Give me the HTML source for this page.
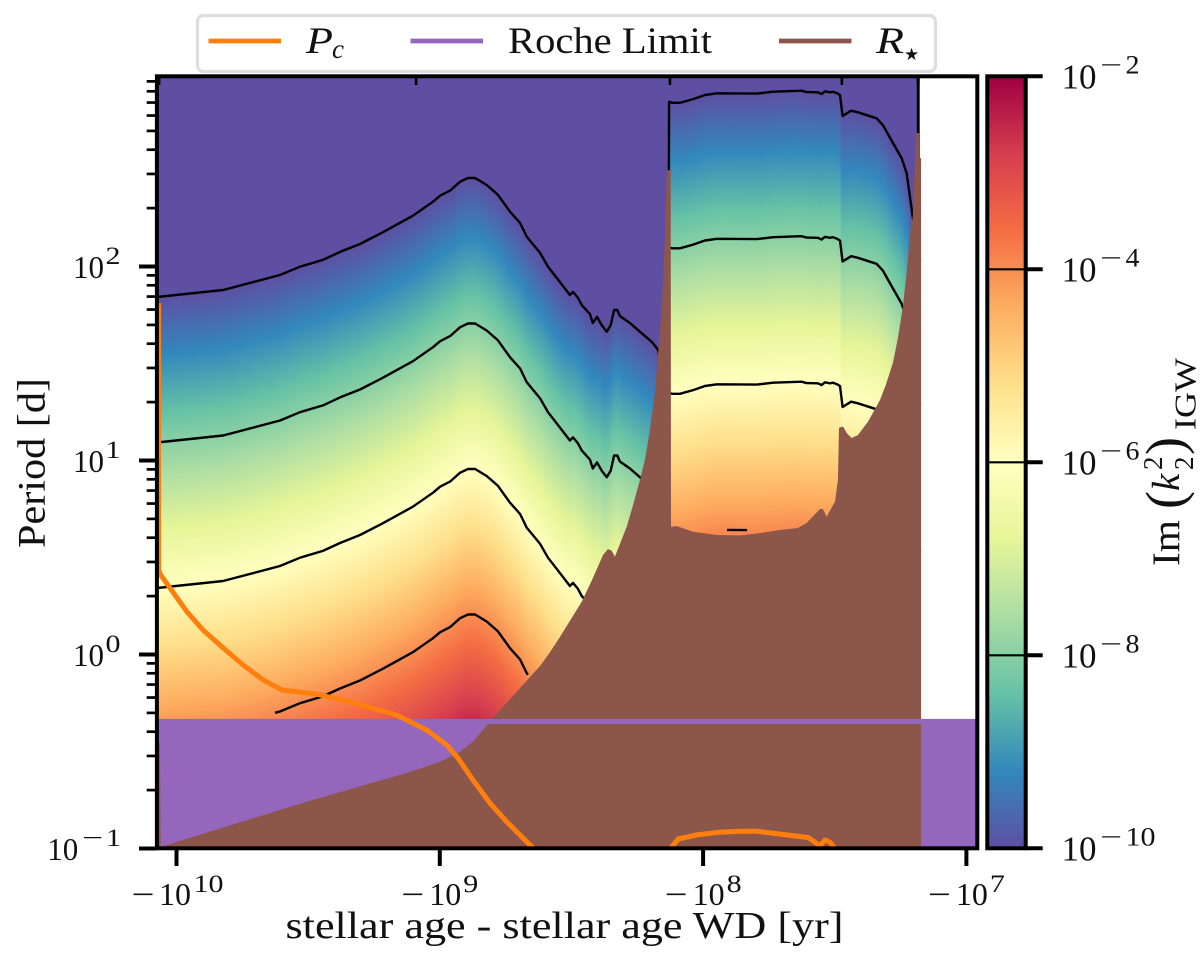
<!DOCTYPE html>
<html lang="en">
<head>
<meta charset="utf-8">
<title>Tidal dissipation chart</title>
<style>
html,body{margin:0;padding:0;background:#fff;}
body{width:1200px;height:954px;overflow:hidden;}
svg{display:block;}
text{font-family:"Liberation Serif","DejaVu Serif",serif;fill:#111;}
</style>
</head>
<body>
<svg id="chart" xmlns="http://www.w3.org/2000/svg" width="1200" height="954" viewBox="0 0 1200 954">
  <defs>
    <linearGradient id="spectral-down" x1="0" y1="0" x2="0" y2="1">
      <stop offset="0" stop-color="#5e4fa2"/><stop offset="0.1" stop-color="#3288bd"/>
      <stop offset="0.2" stop-color="#66c2a5"/><stop offset="0.3" stop-color="#abdda4"/>
      <stop offset="0.4" stop-color="#e6f598"/><stop offset="0.5" stop-color="#ffffbf"/>
      <stop offset="0.6" stop-color="#fee08b"/><stop offset="0.7" stop-color="#fdae61"/>
      <stop offset="0.8" stop-color="#f46d43"/><stop offset="0.9" stop-color="#d53e4f"/>
      <stop offset="1" stop-color="#9e0142"/>
    </linearGradient>
    <linearGradient id="spectral-up" x1="0" y1="1" x2="0" y2="0">
      <stop offset="0" stop-color="#5e4fa2"/><stop offset="0.1" stop-color="#3288bd"/>
      <stop offset="0.2" stop-color="#66c2a5"/><stop offset="0.3" stop-color="#abdda4"/>
      <stop offset="0.4" stop-color="#e6f598"/><stop offset="0.5" stop-color="#ffffbf"/>
      <stop offset="0.6" stop-color="#fee08b"/><stop offset="0.7" stop-color="#fdae61"/>
      <stop offset="0.8" stop-color="#f46d43"/><stop offset="0.9" stop-color="#d53e4f"/>
      <stop offset="1" stop-color="#9e0142"/>
    </linearGradient>
    <clipPath id="plot-clip"><rect x="157" y="76" width="820" height="772"/></clipPath>
    <clipPath id="heat-clip"><rect x="158" y="76" width="762" height="643"/></clipPath>
  </defs>

  <rect x="0" y="0" width="1200" height="954" fill="#fff"/>

  <g clip-path="url(#heat-clip)">
    <rect x="158" y="76" width="762" height="643" fill="#5e4fa2"/>
    <g id="heat-columns" shape-rendering="crispEdges"></g>
  </g>

  <g clip-path="url(#plot-clip)">
    <g id="contours" fill="none" stroke="#000" stroke-width="2.4" stroke-linejoin="round"></g>
    <path id="star-area" fill="#8c564b"/>
    <rect id="roche-area" fill="#9467bd"/>
    <path id="star-area-front" fill="#8c564b"/>
    <g id="pc-lines" fill="none" stroke="#ff7f0e" stroke-width="5" stroke-linejoin="round"></g>
  </g>

  <g id="axis-ticks" stroke="#000"></g>
  <rect x="156.9" y="76.3" width="820.4" height="772" fill="none" stroke="#000" stroke-width="4"/>

  <g id="axis-labels"></g>

  <g>
    <rect x="987.3" y="76.3" width="38.4" height="772" fill="url(#spectral-up)"/>
    <g id="cbar-ticks" stroke="#000"></g>
    <rect x="987.3" y="76.3" width="38.4" height="772" fill="none" stroke="#000" stroke-width="4"/>
    <g id="cbar-labels"></g>
  </g>

  <text x="285.5" y="938" font-size="38" textLength="558" lengthAdjust="spacingAndGlyphs">stellar age - stellar age WD [yr]</text>
  <text transform="translate(44.3,548) rotate(-90)" x="0" y="0" font-size="39" textLength="170" lengthAdjust="spacingAndGlyphs">Period [d]</text>

  <g transform="translate(1179,566) rotate(-90)">
    <text x="0" y="0" font-size="39" textLength="46" lengthAdjust="spacingAndGlyphs">Im</text>
    <text x="57" y="4" font-size="54">(</text>
    <text x="75" y="0" font-size="39" font-style="italic">k</text>
    <text x="96" y="-17" font-size="27">2</text>
    <text x="96" y="14" font-size="27">2</text>
    <text x="111" y="4" font-size="54">)</text>
    <text x="136" y="16.7" font-size="31" textLength="72" lengthAdjust="spacingAndGlyphs">IGW</text>
  </g>

  <g>
    <rect x="197.5" y="15.5" width="738" height="56" rx="6" ry="6" fill="#fff" stroke="#dedede" stroke-width="3.2"/>
    <g>
      <line x1="208.5" x2="281" y1="41" y2="41" stroke="#ff7f0e" stroke-width="4.8"/>
      <text x="306" y="53" font-size="37" font-style="italic" textLength="27" lengthAdjust="spacingAndGlyphs">P</text>
      <text x="332" y="58" font-size="27" font-style="italic">c</text>
    </g>
    <g>
      <line x1="410.5" x2="483" y1="41" y2="41" stroke="#9467bd" stroke-width="4.8"/>
      <text x="508" y="53" font-size="37" textLength="204" lengthAdjust="spacingAndGlyphs">Roche Limit</text>
    </g>
    <g>
      <line x1="779" x2="851.5" y1="41" y2="41" stroke="#8c564b" stroke-width="4.8"/>
      <text x="876" y="53" font-size="37" font-style="italic" textLength="28" lengthAdjust="spacingAndGlyphs">R</text>
      <text x="904" y="60" font-size="17" style="font-family:'DejaVu Sans',sans-serif">★</text>
    </g>
  </g>
</svg>

<script>
// ---- data (log10 of |age| in yr, log10 of period in d) ----
const contourAges = [10.074,9.823,9.607,9.531,9.444,9.379,9.303,9.221,9.102,9.026,8.999,8.961,8.923,8.893,8.866,8.822,8.779,8.733,8.695,8.670,8.619,8.589,8.556,8.506,8.494,8.475,8.461,8.430,8.419,8.403,8.385,8.366,8.351,8.338,8.326,8.316,8.278,8.240,8.195,8.171,8.133,8.129,8.119,8.088,8.038,7.993,7.948,7.796,7.735,7.626,7.607,7.564,7.550,7.537,7.518,7.507,7.491,7.480,7.470,7.438,7.412,7.341,7.317,7.279,7.246,7.227,7.204,7.176];
// period at which Im(k2) = 1e-6, per age
const isoPeriodLog = [0.343,0.379,0.456,0.499,0.534,0.575,0.616,0.673,0.762,0.834,0.865,0.891,0.937,0.956,0.956,0.920,0.869,0.782,0.724,0.654,0.570,0.499,0.441,0.353,0.369,0.338,0.302,0.255,0.209,0.240,0.198,0.164,0.198,0.276,0.276,0.245,0.209,0.164,0.112,0.070,-0.188,1.349,1.344,1.344,1.363,1.384,1.393,1.391,1.401,1.406,1.399,1.398,1.389,1.403,1.398,1.401,1.393,1.384,1.276,1.303,1.295,1.264,1.229,1.137,1.059,0.982,0.757,0.534];
const isoReferenceLevel = -6;
const periodLogPerDexK2 = -0.375;
const colorLevelMin = -10;
const colorLevelMax = -2;
const contourLevels = [-10,-8,-6,-4];
const deepContourLevel = -4;
const deepContourRanges = [[9.626,8.665],[7.909,7.833]];
const rightEdgeAges = [7.184,7.184];
const rightEdgeLogPeriod = [2.982,2.688];

const starAges = [10.070,10.063,10.060,9.506,9.126,8.999,8.923,8.874,8.817,8.798,8.619,8.581,8.543,8.506,8.461,8.422,8.380,8.361,8.347,8.335,8.290,8.266,8.240,8.221,8.202,8.183,8.171,8.157,8.145,8.138,8.123,8.122,8.100,8.038,7.948,7.860,7.784,7.708,7.640,7.607,7.556,7.545,7.531,7.499,7.488,7.484,7.476,7.468,7.461,7.455,7.436,7.412,7.374,7.351,7.328,7.305,7.279,7.260,7.241,7.226,7.214,7.204,7.191,7.181,7.180,7.172];
const starLogPeriod = [-0.456,-0.456,-0.992,-0.759,-0.611,-0.553,-0.501,-0.449,-0.353,-0.327,-0.059,0.013,0.092,0.173,0.272,0.384,0.513,0.544,0.535,0.504,0.659,0.771,0.899,1.003,1.157,1.348,1.554,1.793,2.137,2.497,2.497,0.659,0.662,0.633,0.616,0.614,0.626,0.642,0.652,0.678,0.750,0.750,0.710,0.788,0.899,1.168,1.173,1.174,1.157,1.142,1.116,1.131,1.200,1.255,1.312,1.394,1.503,1.631,1.793,1.982,2.173,2.255,2.688,2.688,2.559,2.559];

const rocheLogPeriod = -0.332;
const rocheFrontLogPeriod = -0.358;

const pcAges = [10.068,10.068,10.060,9.961,9.899,9.828,9.747,9.671,9.600,9.468,9.330,9.164,9.050,8.974,8.931,8.874,8.809,8.746,8.651,8.619,null,8.133,8.119,8.094,8.024,7.936,7.860,7.796,7.645,7.600,7.556,7.537,7.518,7.488];
const pcLogPeriod = [1.812,0.436,0.410,0.221,0.126,0.040,-0.054,-0.131,-0.183,-0.204,-0.248,-0.312,-0.389,-0.466,-0.534,-0.647,-0.767,-0.862,-0.991,-1.034,null,-1.013,-0.991,-0.951,-0.930,-0.916,-0.911,-0.911,-0.936,-0.944,-0.986,-0.956,-0.968,-1.018];

const xTickExponents = [10,9,8,7];
const xInnerTickAges = [10.066,9.090,8.126,7.473,7.184];
const yTickExponents = [-1,0,1,2];
const yMinorMultipliers = [2,3,4,5,6,7,8,9];
const yMaxLog = 2.982;
const cbarTickLevels = [-10,-8,-6,-4,-2];
const cbarInnerLevels = [-8,-6,-4];

// ---- scales ----
function xScale(logAge){ return 176.5 + (10 - logAge) * 263.3; }
function xInverse(px){ return 10 - (px - 176.5) / 263.3; }
function yScale(logP){ return 654.5 - logP * 194; }
function cbarScale(level){ return 848.3 - (level - colorLevelMin) / (colorLevelMax - colorLevelMin) * 772; }

const NS = 'http://www.w3.org/2000/svg';
function el(tag, parent){ const n = document.createElementNS(NS, tag); parent.appendChild(n); return n; }
function txt(parent, str, x, y, size, width){
  const t = el('text', parent);
  t.setAttribute('x', x); t.setAttribute('y', y); t.setAttribute('font-size', size);
  if (width) { t.setAttribute('textLength', width); t.setAttribute('lengthAdjust', 'spacingAndGlyphs'); }
  t.textContent = str;
  return t;
}
function refAt(age){
  // ages are descending
  if (age >= contourAges[0]) return isoPeriodLog[0];
  for (let i = 1; i < contourAges.length; i++) {
    if (age >= contourAges[i]) {
      const f = (contourAges[i-1] - age) / (contourAges[i-1] - contourAges[i]);
      return isoPeriodLog[i-1] + f * (isoPeriodLog[i] - isoPeriodLog[i-1]);
    }
  }
  return isoPeriodLog[isoPeriodLog.length-1];
}
function levelPeriod(refLog, level){ return refLog + (level - isoReferenceLevel) * periodLogPerDexK2; }

// ---- heatmap columns (lightly smoothed across neighbouring ages, never across a jump) ----
const heatG = document.getElementById('heat-columns');
for (let px = 158; px < 920; px += 2) {
  const before = refAt(xInverse(px - 2));
  const centre = refAt(xInverse(px + 1));
  const after = refAt(xInverse(px + 4));
  const jump = Math.abs(before - centre) > 0.08 || Math.abs(after - centre) > 0.08;
  const ref = jump ? centre : (before + centre + after) / 3;
  const top = yScale(levelPeriod(ref, colorLevelMin));
  const bottom = yScale(levelPeriod(ref, colorLevelMax));
  const r = el('rect', heatG);
  
  
  r.setAttribute('x', px);
  r.setAttribute('width', 2);
  r.setAttribute('y', top.toFixed(2));
  r.setAttribute('height', (bottom - top).toFixed(2));
  r.setAttribute('fill', 'url(#spectral-down)');
}

// ---- contours ----
const contourG = document.getElementById('contours');
function contourPath(level, from, to){
  const pts = [];
  if (from !== null) pts.push([xScale(from), yScale(levelPeriod(refAt(from), level))]);
  contourAges.forEach(function(a, i){
    if (from === null || (a < from && a > to)) pts.push([xScale(a), yScale(levelPeriod(isoPeriodLog[i], level))]);
  });
  if (to !== null) pts.push([xScale(to), yScale(levelPeriod(refAt(to), level))]);
  return 'M' + pts.map(function(p){ return p[0].toFixed(1) + ' ' + p[1].toFixed(1); }).join('L');
}
contourLevels.forEach(function(level){
  if (level === deepContourLevel) {
    deepContourRanges.forEach(function(range){
      const p = el('path', contourG);
      
      
      p.setAttribute('d', contourPath(level, range[0], range[1]));
    });
  } else {
    const p = el('path', contourG);
    
    
    p.setAttribute('d', contourPath(level, null, null));
  }
});
const edgeLine = el('path', contourG);


edgeLine.setAttribute('d', 'M' + rightEdgeAges.map(function(a, i){ return xScale(a).toFixed(1) + ' ' + yScale(rightEdgeLogPeriod[i]).toFixed(1); }).join('L'));

// ---- stellar radius & Roche ----
function starPath(cap){
  const base = yScale(-1) + 4;
  let d = 'M' + xScale(starAges[0]).toFixed(1) + ' ' + base;
  starAges.forEach(function(a, i){
    const v = cap === null ? starLogPeriod[i] : Math.min(starLogPeriod[i], cap);
    d += 'L' + xScale(a).toFixed(1) + ' ' + yScale(v).toFixed(1);
  });
  d += 'L' + xScale(starAges[starAges.length-1]).toFixed(1) + ' ' + base + 'Z';
  return d;
}
document.getElementById('star-area').setAttribute('d', starPath(null));
document.getElementById('star-area-front').setAttribute('d', starPath(rocheFrontLogPeriod));
const rocheRect = document.getElementById('roche-area');
rocheRect.setAttribute('x', 158);
rocheRect.setAttribute('width', 819);
rocheRect.setAttribute('y', yScale(rocheLogPeriod).toFixed(1));
rocheRect.setAttribute('height', (yScale(-1) - yScale(rocheLogPeriod)).toFixed(1));

// ---- Pc line ----
const pcG = document.getElementById('pc-lines');
let pcSeg = [];
function flushPc(){
  if (!pcSeg.length) return;
  const p = el('path', pcG);
  
  
  p.setAttribute('d', 'M' + pcSeg.join('L'));
  pcSeg = [];
}
pcAges.forEach(function(a, i){
  if (a === null) { flushPc(); return; }
  pcSeg.push(xScale(a).toFixed(1) + ' ' + yScale(pcLogPeriod[i]).toFixed(1));
});
flushPc();

// ---- main axis ticks ----
const tickG = document.getElementById('axis-ticks');
const labelG = document.getElementById('axis-labels');
xTickExponents.forEach(function(exp){
  const tx = xScale(exp);
  const t = el('line', tickG);
  
  
  t.setAttribute('x1', tx); t.setAttribute('x2', tx);
  t.setAttribute('y1', 848); t.setAttribute('y2', 866);
  t.setAttribute('stroke-width', 4);
  const s = String(exp);
  const wide = s.length > 1;
  const m = txt(labelG, '\u2212', tx + (wide ? -45 : -38.5), 905, 32, 23);
  
  
  const b = txt(labelG, '10', tx + (wide ? -17.5 : -10.5), 905, 32, 32);
  
  
  const e = txt(labelG, s, tx + (wide ? 17 : 23.5), 892, 25, wide ? 30 : 15);
  
  
});
xInnerTickAges.forEach(function(a){
  const tx = xScale(a);
  const t = el('line', tickG);
  
  
  t.setAttribute('x1', tx); t.setAttribute('x2', tx);
  t.setAttribute('y1', 76); t.setAttribute('y2', 85);
  t.setAttribute('stroke-width', 2.6);
});
yTickExponents.forEach(function(exp){
  const ty = yScale(exp);
  const t = el('line', tickG);
  
  
  t.setAttribute('x1', 139); t.setAttribute('x2', 156);
  t.setAttribute('y1', ty); t.setAttribute('y2', ty);
  t.setAttribute('stroke-width', 4);
  yMinorMultipliers.forEach(function(mult){
    const lp = exp + Math.log10(mult);
    if (lp > yMaxLog) return;
    const mt = el('line', tickG);
    
    
    mt.setAttribute('x1', 146.7); mt.setAttribute('x2', 156);
    mt.setAttribute('y1', yScale(lp)); mt.setAttribute('y2', yScale(lp));
    mt.setAttribute('stroke-width', 2.7);
  });
  const neg = exp < 0;
  const b = txt(labelG, '10', neg ? 47.3 : 73, ty + 11.5, 32, 31);
  
  
  if (neg) {
    const m = txt(labelG, '\u2212', 82, ty - 2.5, 25, 21);
    
    
  }
  const e = txt(labelG, String(Math.abs(exp)), neg ? 106 : 105.5, ty - 2.5, 25, 15);
  
  
});

// ---- colorbar ticks ----
const cbTicks = document.getElementById('cbar-ticks');
const cbLabels = document.getElementById('cbar-labels');
cbarInnerLevels.forEach(function(level){
  const l = el('line', cbTicks);
  
  
  l.setAttribute('x1', 987.3); l.setAttribute('x2', 1025.7);
  l.setAttribute('y1', cbarScale(level)); l.setAttribute('y2', cbarScale(level));
  l.setAttribute('stroke-width', 2.2);
});
cbarTickLevels.forEach(function(level){
  const ty = cbarScale(level);
  const t = el('line', cbTicks);
  
  
  t.setAttribute('x1', 1025.7); t.setAttribute('x2', 1042.7);
  t.setAttribute('y1', ty); t.setAttribute('y2', ty);
  t.setAttribute('stroke-width', 4);
  const b = txt(cbLabels, '10', 1061.5, ty + 12.3, 35, 35);
  
  
  const m = txt(cbLabels, '\u2212', 1100, ty - 2.6, 26, 22);
  
  
  const s = String(Math.abs(level));
  const e = txt(cbLabels, s, 1125.5, ty - 2.6, 26, s.length > 1 ? 30 : 14);
  
  
});
</script>
</body>
</html>
